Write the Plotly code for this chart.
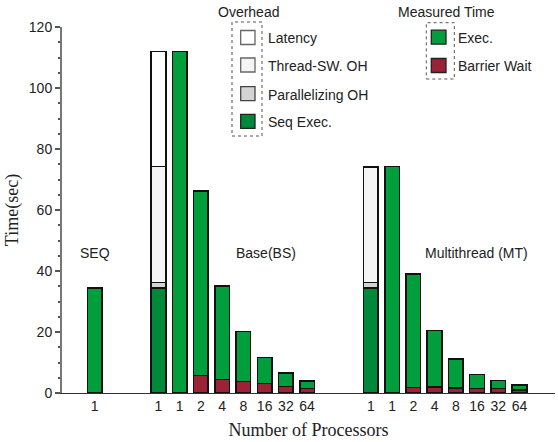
import plotly.graph_objects as go

# ---- data (seconds) ----
seq_time = [34.5]

# Base (BS): overhead breakdown bar, then measured bars per processor count
bs_seq_exec = 34.5
bs_par_oh = 1.7
bs_thread_oh = 38.0
bs_latency = 37.8
bs_procs = ["1", "2", "4", "8", "16", "32", "64"]
bs_total = [112.0, 66.3, 35.1, 20.1, 11.6, 6.6, 3.9]
bs_barrier = [0.0, 5.7, 4.4, 3.8, 3.1, 2.2, 1.5]

# Multithread (MT)
mt_seq_exec = 34.5
mt_par_oh = 1.7
mt_thread_oh = 37.7
mt_latency = 0.3
mt_procs = ["1", "2", "4", "8", "16", "32", "64"]
mt_total = [74.2, 39.0, 20.5, 11.2, 6.1, 4.1, 2.6]
mt_barrier = [0.0, 1.8, 1.9, 1.7, 1.4, 1.5, 1.0]

# ---- styling ----
C_EXEC = "#009e3d"
C_SEQ = "#00893a"
C_BAR = "#9b2335"
C_PAR = "#d3d3d3"
C_THR = "#f5f5f5"
C_LAT = "#ffffff"
EDGE = "#111111"
SANS = "Liberation Sans, Arial, sans-serif"
SERIF = "Liberation Serif, Times New Roman, serif"

# slot layout: SEQ at 0, BS group starts at 3, MT group starts at 13
seq_x = [0]
bs_oh_x = 3
bs_x = [4 + i for i in range(len(bs_procs))]
mt_oh_x = 13
mt_x = [14 + i for i in range(len(mt_procs))]

W = 0.69
line = dict(color=EDGE, width=1.5)

fig = go.Figure()

# overhead breakdown bars (stacked)
oh_x = [bs_oh_x, mt_oh_x]
for vals, col in [
    ([bs_seq_exec, mt_seq_exec], C_SEQ),
    ([bs_par_oh, mt_par_oh], C_PAR),
    ([bs_thread_oh, mt_thread_oh], C_THR),
    ([bs_latency, mt_latency], C_LAT),
]:
    fig.add_bar(x=oh_x, y=vals, width=W, marker=dict(color=col, line=line),
                showlegend=False)

# measured bars: barrier wait at the bottom, execution on top
bx = seq_x + bs_x + mt_x
barrier = [0.0] + bs_barrier + mt_barrier
total = seq_time + bs_total + mt_total
exec_part = [t - b for t, b in zip(total, barrier)]
fig.add_bar(x=bx, y=barrier, width=W, marker=dict(color=C_BAR, line=line),
            showlegend=False)
fig.add_bar(x=bx, y=exec_part, width=W, marker=dict(color=C_EXEC, line=line),
            showlegend=False)

tickvals = seq_x + [bs_oh_x] + bs_x + [mt_oh_x] + mt_x
ticktext = ["1"] + ["1"] + bs_procs + ["1"] + mt_procs

fig.update_layout(
    barmode="stack",
    width=558, height=442,
    margin=dict(l=62, r=3, t=27, b=49),
    plot_bgcolor="white", paper_bgcolor="white",
    font=dict(family=SANS, size=14, color="#222"),
    xaxis=dict(range=[-1.54, 21.67], tickvals=tickvals, ticktext=ticktext,
               showline=True, linecolor="#333", linewidth=1, ticks="",
               showgrid=False, zeroline=False,
               tickfont=dict(family=SANS, size=14, color="#222"),
               title=dict(text="Number of Processors", standoff=10,
                          font=dict(family=SERIF, size=18, color="#222"))),
    yaxis=dict(range=[0, 120], dtick=20, showline=True, linecolor="#777",
               linewidth=2, ticks="outside", ticklen=5, tickwidth=1.5,
               tickcolor="#555", showgrid=False, zeroline=False,
               minor=dict(dtick=5, ticks="outside", ticklen=2, tickcolor="#555"),
               tickfont=dict(family=SANS, size=14, color="#222"),
               title=dict(text="Time(sec)", standoff=6,
                          font=dict(family=SERIF, size=18, color="#222"))),
)

# ---- pixel -> paper helpers for decorations ----
PL, PR, PT, PB = 62, 555, 27, 393


def px(xp):
    return (xp - PL) / (PR - PL)


def py(yp):
    return (PB - yp) / (PB - PT)


def label(x, y, txt, anchor="left"):
    fig.add_annotation(xref="paper", yref="paper", x=px(x), y=py(y), text=txt,
                       showarrow=False, xanchor=anchor, yanchor="middle",
                       font=dict(family=SANS, size=14, color="#222"))


# group labels
label(95, 253, "SEQ", anchor="center")
label(234, 253, "Base(BS)")
label(423, 253, "Multithread (MT)")


def box(x0, y0, x1, y1, fill, edge, dash=None, width=1.2):
    fig.add_shape(type="rect", xref="paper", yref="paper",
                  x0=px(x0), x1=px(x1), y0=py(y1), y1=py(y0),
                  fillcolor=fill, line=dict(color=edge, width=width, dash=dash),
                  layer="above")


# Overhead legend group
label(248, 12, "Overhead", anchor="center")
box(232, 22, 262, 136, "rgba(0,0,0,0)", "#555", dash="dot", width=1)
for yc, col, edge, txt in [
    (37.5, C_LAT, "#666", "Latency"),
    (65, C_THR, "#666", "Thread-SW. OH"),
    (93.7, C_PAR, "#444", "Parallelizing OH"),
    (121.3, C_SEQ, "#222", "Seq Exec."),
]:
    box(240.7, yc - 7, 255, yc + 7, col, edge, width=1.3)
    label(266, yc + 1, txt)

# Measured Time legend group
label(446, 12, "Measured Time", anchor="center")
box(426.3, 22.7, 454.3, 79, "rgba(0,0,0,0)", "#555", dash="dot", width=1)
for yc, col, txt in [(37.2, C_EXEC, "Exec."), (65.5, C_BAR, "Barrier Wait")]:
    box(431.3, yc - 7, 446, yc + 7, col, "#222", width=1.3)
    label(456, yc + 1, txt)

fig.write_html("out.html")
